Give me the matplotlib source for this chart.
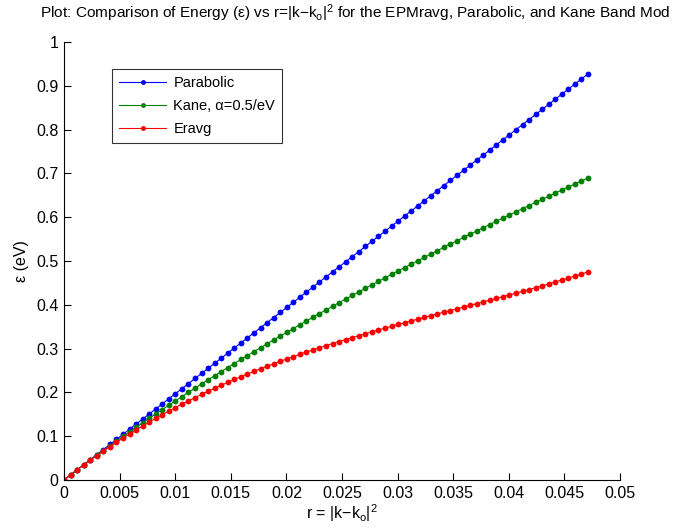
import numpy as np
import matplotlib
matplotlib.use('Agg')
import matplotlib.pyplot as plt

plt.rcParams['font.family'] = ['Liberation Sans', 'DejaVu Sans']
plt.rcParams['mathtext.default'] = 'regular'

# r = |k-ko|^2 sample points
r = [0, 0.00059, 0.00118, 0.00177, 0.00236, 0.00295, 0.00353, 0.00412, 0.00471, 0.0053,
     0.00589, 0.00648, 0.00707, 0.00766, 0.00825, 0.00884, 0.00942, 0.01001, 0.0106, 0.01119,
     0.01178, 0.01237, 0.01296, 0.01355, 0.01414, 0.01473, 0.01531, 0.0159, 0.01649, 0.01708,
     0.01767, 0.01826, 0.01885, 0.01944, 0.02003, 0.02062, 0.0212, 0.02179, 0.02238, 0.02297,
     0.02356, 0.02415, 0.02474, 0.02533, 0.02592, 0.02651, 0.02709, 0.02768, 0.02827, 0.02886,
     0.02945, 0.03004, 0.03063, 0.03122, 0.03181, 0.0324, 0.03298, 0.03357, 0.03416, 0.03475,
     0.03534, 0.03593, 0.03652, 0.03711, 0.0377, 0.03829, 0.03887, 0.03946, 0.04005, 0.04064,
     0.04123, 0.04182, 0.04241, 0.043, 0.04359, 0.04418, 0.04476, 0.04535, 0.04594, 0.04653,
     0.04712]

parabolic = [0, 0.0116, 0.0232, 0.0348, 0.0464, 0.0580, 0.0695, 0.0811, 0.0927, 0.1043,
             0.1159, 0.1275, 0.1391, 0.1507, 0.1623, 0.1739, 0.1855, 0.1971, 0.2086, 0.2202,
             0.2318, 0.2434, 0.2550, 0.2666, 0.2782, 0.2898, 0.3014, 0.3130, 0.3246, 0.3362,
             0.3477, 0.3593, 0.3709, 0.3825, 0.3941, 0.4057, 0.4173, 0.4289, 0.4405, 0.4521,
             0.4637, 0.4753, 0.4868, 0.4984, 0.5100, 0.5216, 0.5332, 0.5448, 0.5564, 0.5680,
             0.5796, 0.5912, 0.6028, 0.6144, 0.6259, 0.6375, 0.6491, 0.6607, 0.6723, 0.6839,
             0.6955, 0.7071, 0.7187, 0.7303, 0.7419, 0.7534, 0.7650, 0.7766, 0.7882, 0.7998,
             0.8114, 0.8230, 0.8346, 0.8462, 0.8578, 0.8694, 0.8810, 0.8925, 0.9041, 0.9157,
             0.9273]

kane = [0, 0.0115, 0.0229, 0.0342, 0.0454, 0.0564, 0.0672, 0.0781, 0.0888, 0.0994,
        0.1099, 0.1203, 0.1306, 0.1408, 0.1509, 0.1609, 0.1709, 0.1808, 0.1905, 0.2002,
        0.2098, 0.2193, 0.2288, 0.2382, 0.2476, 0.2568, 0.2660, 0.2752, 0.2842, 0.2932,
        0.3021, 0.3110, 0.3198, 0.3285, 0.3372, 0.3459, 0.3545, 0.3630, 0.3715, 0.3799,
        0.3883, 0.3966, 0.4049, 0.4131, 0.4213, 0.4294, 0.4375, 0.4455, 0.4536, 0.4615,
        0.4694, 0.4773, 0.4851, 0.4929, 0.5006, 0.5083, 0.5160, 0.5236, 0.5312, 0.5388,
        0.5463, 0.5538, 0.5612, 0.5686, 0.5760, 0.5833, 0.5906, 0.5979, 0.6051, 0.6123,
        0.6195, 0.6267, 0.6338, 0.6409, 0.6479, 0.6549, 0.6619, 0.6688, 0.6758, 0.6827,
        0.6896]

eravg = [0, 0.0121, 0.0234, 0.0344, 0.0452, 0.0558, 0.0661, 0.0762, 0.0861, 0.0957,
         0.1051, 0.1143, 0.1233, 0.1321, 0.1407, 0.1491, 0.1573, 0.1653, 0.1731, 0.1807,
         0.1882, 0.1955, 0.2026, 0.2095, 0.2163, 0.2230, 0.2295, 0.2358, 0.2420, 0.2481,
         0.2540, 0.2598, 0.2654, 0.2710, 0.2764, 0.2817, 0.2870, 0.2921, 0.2971, 0.3020,
         0.3068, 0.3115, 0.3162, 0.3208, 0.3253, 0.3297, 0.3341, 0.3384, 0.3426, 0.3468,
         0.3510, 0.3551, 0.3592, 0.3632, 0.3672, 0.3712, 0.3752, 0.3791, 0.3830, 0.3870,
         0.3909, 0.3948, 0.3987, 0.4027, 0.4066, 0.4106, 0.4145, 0.4186, 0.4226, 0.4267,
         0.4308, 0.4349, 0.4391, 0.4434, 0.4477, 0.4521, 0.4565, 0.4610, 0.4656, 0.4703,
         0.4750]

xticks = [0, 0.005, 0.01, 0.015, 0.02, 0.025, 0.03, 0.035, 0.04, 0.045, 0.05]
xtick_labels = ['0', '0.005', '0.01', '0.015', '0.02', '0.025', '0.03', '0.035', '0.04', '0.045', '0.05']
yticks = [0, 0.1, 0.2, 0.3, 0.4, 0.5, 0.6, 0.7, 0.8, 0.9, 1]
ytick_labels = ['0', '0.1', '0.2', '0.3', '0.4', '0.5', '0.6', '0.7', '0.8', '0.9', '1']

fs = 11.5

fig = plt.figure(figsize=(6.93, 5.29), dpi=100)
ax = fig.add_axes([0.0924, 0.0926, 0.8023, 0.828])

ax.plot(r, parabolic, color=(0, 0, 1), lw=0.8, marker='o', ms=4.2, mew=0, label='Parabolic')
ax.plot(r, kane, color=(0, 0.5, 0), lw=0.8, marker='o', ms=4.2, mew=0, label='Kane, α=0.5/eV')
ax.plot(r, eravg, color=(1, 0, 0), lw=0.8, marker='o', ms=4.2, mew=0, label='Eravg')

ax.set_xlim(0, 0.05)
ax.set_ylim(0, 1)
ax.set_xticks(xticks)
ax.set_xticklabels(xtick_labels)
ax.set_yticks(yticks)
ax.set_yticklabels(ytick_labels)
ax.tick_params(direction='in', length=5, width=0.8, labelsize=fs, pad=4)
ax.spines['top'].set_visible(False)
ax.spines['right'].set_visible(False)
for s in ['left', 'bottom']:
    ax.spines[s].set_linewidth(0.8)

ax.set_xlabel('r = |k\u2212k$_o$|$^2$', fontsize=fs, labelpad=1)
ax.set_ylabel('ε (eV)', fontsize=fs, labelpad=5)

# title as it shows in the original image (ends at the right edge)
fig.text(40 / 693, 1 - 17.5 / 529,
         'Plot: Comparison of Energy (ε) vs r=|k\u2212k$_o$|$^2$ for the EPMravg, Parabolic, and Kane Band Mod',
         fontsize=11.1, ha='left', va='baseline')

leg = ax.legend(loc='upper left', bbox_to_anchor=(0.0863, 0.938), borderaxespad=0,
                fontsize=10.5, frameon=True, fancybox=False, edgecolor='black',
                handlelength=3.2, handletextpad=0.5, borderpad=0.5, labelspacing=0.6)
leg.get_frame().set_linewidth(0.8)
for h in leg.legend_handles:
    h.set_markersize(3.5)

fig.savefig('out.png', dpi=100)
